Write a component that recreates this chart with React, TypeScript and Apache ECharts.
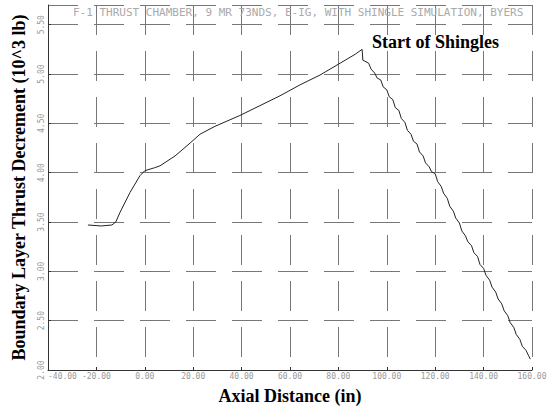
import React, { useEffect, useRef } from "react";
import * as echarts from "echarts";

const xTicks = { min: -40, max: 160, interval: 20 };
const yTicks = { min: 2, max: 5.7, interval: 0.5 };

const titleText = "F-1 THRUST CHAMBER, 9 MR 73NDS, E-IG, WITH SHINGLE SIMULATION, BYERS";
const annotation = "Start of Shingles";
const xName = "Axial Distance (in)";
const yName = "Boundary Layer Thrust Decrement (10^3 lb)";

const risingX = [-23.5, -18, -13.6, -12, -10.2, -6.1, -2.0, 0, 1.3, 4, 6.3, 12.5, 18.7, 22.8, 29, 39.3, 47.6, 55.9, 64.1, 72.4, 80.7, 86.9, 89.8];
const risingY = [3.47, 3.46, 3.47, 3.50, 3.60, 3.80, 3.97, 4.02, 4.03, 4.05, 4.07, 4.17, 4.30, 4.39, 4.47, 4.58, 4.68, 4.78, 4.89, 4.99, 5.11, 5.20, 5.25];

const fallingX = [90.1, 91.0, 92.5, 93.5, 95.0, 96.0, 97.5, 98.5, 100.0, 101.0, 102.5, 103.5, 105.0, 106.0, 107.5, 108.5, 110.0, 111.0, 112.5, 113.5, 115.0, 116.0, 117.5, 118.5, 120.0, 121.0, 122.5, 123.5, 125.0, 126.0, 127.5, 128.5, 130.0, 131.0, 132.5, 133.5, 135.0, 136.0, 137.5, 138.5, 140.0, 141.0, 142.5, 143.5, 145.0, 146.0, 147.5, 148.5, 150.0, 151.0, 152.5, 153.5, 155.0, 156.0, 157.5, 158.5, 159.3];
const fallingY = [5.14, 5.13, 5.11, 5.05, 5.01, 4.96, 4.94, 4.87, 4.84, 4.77, 4.74, 4.66, 4.63, 4.55, 4.51, 4.43, 4.39, 4.32, 4.29, 4.21, 4.17, 4.10, 4.06, 4.01, 3.99, 3.91, 3.86, 3.79, 3.74, 3.66, 3.61, 3.54, 3.49, 3.41, 3.36, 3.30, 3.26, 3.19, 3.15, 3.07, 3.03, 2.96, 2.91, 2.84, 2.79, 2.72, 2.67, 2.60, 2.55, 2.48, 2.43, 2.36, 2.31, 2.24, 2.20, 2.15, 2.11];

export default function App() {
  const ref = useRef<HTMLDivElement>(null);
  useEffect(() => {
    if (!ref.current) return;
    const chart = echarts.init(ref.current, null, { renderer: "svg" });
    const data: number[][] = [];
    risingX.forEach((x, i) => data.push([x, risingY[i]]));
    fallingX.forEach((x, i) => data.push([x, fallingY[i]]));
    const gridLine = { show: true, lineStyle: { color: "#777", width: 1, type: [30, 16] as any } };
    const nameStyle = { fontFamily: "Liberation Serif", fontWeight: "bold", fontSize: 18, color: "#000" };
    chart.setOption({
      animation: false,
      backgroundColor: "#fff",
      title: {
        text: titleText,
        left: 68,
        top: 2,
        textStyle: { fontFamily: "DejaVu Sans Mono", fontSize: 11, fontWeight: "normal", color: "#aaa" },
      },
      grid: { left: 48, right: 23, top: 5, bottom: 35 },
      xAxis: {
        type: "value",
        min: xTicks.min,
        max: xTicks.max,
        interval: xTicks.interval,
        name: xName,
        nameLocation: "middle",
        nameGap: 17,
        nameTextStyle: nameStyle,
        axisLine: { show: true, onZero: false, lineStyle: { color: "#333" } },
        axisTick: { show: true, length: 3, inside: true, lineStyle: { color: "#333" } },
        axisLabel: {
          fontFamily: "DejaVu Sans Mono",
          fontSize: 8,
          color: "#999",
          margin: 2,
          alignMinLabel: "left",
          formatter: (v: number) => v.toFixed(2),
        },
        splitLine: gridLine,
      },
      yAxis: {
        type: "value",
        min: yTicks.min,
        max: yTicks.max,
        interval: yTicks.interval,
        name: yName,
        nameLocation: "middle",
        nameGap: 20,
        nameTextStyle: nameStyle,
        axisLine: { show: true, onZero: false, lineStyle: { color: "#333" } },
        axisTick: { show: true, length: 3, inside: true, lineStyle: { color: "#333" } },
        axisLabel: {
          fontFamily: "DejaVu Sans Mono",
          fontSize: 8,
          color: "#999",
          margin: 3,
          rotate: 90,
          showMaxLabel: false,
          formatter: (v: number) => v.toFixed(2),
        },
        splitLine: gridLine,
      },
      graphic: [
        {
          type: "text",
          left: 372,
          top: 33,
          style: {
            text: annotation,
            font: "bold 18px 'Liberation Serif'",
            fill: "#000",
          },
        },
      ],
      series: [
        {
          type: "line",
          data,
          showSymbol: false,
          symbol: "none",
          lineStyle: { color: "#222", width: 1 },
        },
      ],
    });
    return () => chart.dispose();
  }, []);
  return <div ref={ref} style={{ position: "absolute", left: 0, top: 0, width: 555, height: 410 }} />;
}
